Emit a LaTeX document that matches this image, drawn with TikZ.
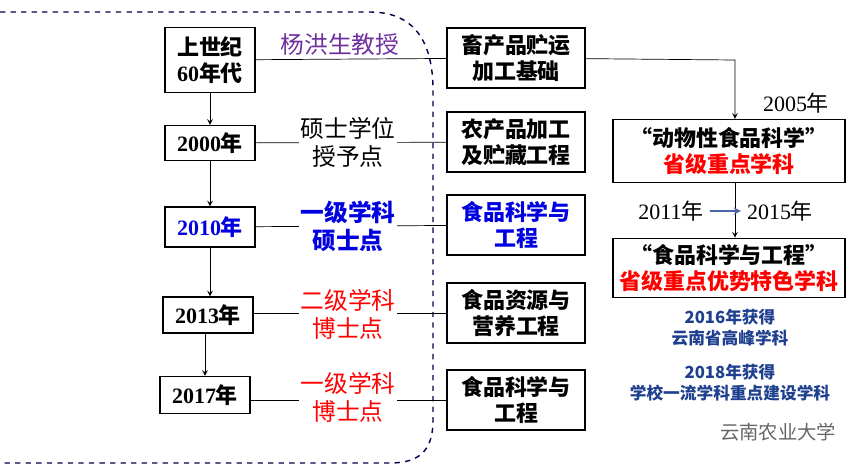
\documentclass[tikz,border=0pt]{standalone}
\usepackage{fontspec}
\setmainfont{Liberation Serif}
\newfontfamily\cjk{Noto Sans CJK SC}
\definecolor{zpurple}{HTML}{7030A0}
\definecolor{zblue}{HTML}{0000E0}
\definecolor{zred}{HTML}{FF0000}
\definecolor{znavy}{HTML}{1F3F8F}
\tikzset{
  yearbox/.style={draw,thick,font=\bfseries\fontsize{12.5}{14}\selectfont,minimum width=1.8cm,inner sep=2pt},
  fieldbox/.style={draw,thick,font=\cjk\bfseries\fontsize{12.5}{15}\selectfont,minimum width=2.76cm,minimum height=1.2cm,align=center},
  provbox/.style={draw,thick,font=\cjk\bfseries\fontsize{12.5}{15}\selectfont,minimum width=4.64cm,align=center},
  midlabel/.style={font=\cjk\fontsize{13.5}{16}\selectfont,align=center,fill=white,inner sep=1pt},
  >=stealth
}
\begin{document}
\begin{tikzpicture}[x=0.02cm,y=-0.02cm]
\useasboundingbox (0,0) rectangle (867,467);
% dashed region
\draw[dashed,thick,color=black!70!blue] (0,12)--(370,12) .. controls (420,12) and (433,50) .. (433,90)--(433,420) .. controls (433,450) and (420,463) .. (390,463)--(0,463);
% left column
\node[yearbox,minimum height=1.3cm,align=center,font=\cjk\bfseries\fontsize{12.5}{15}\selectfont] (y60) at (210,60) {上世纪\\{\rmfamily 60}年代};
\node[yearbox,minimum height=0.7cm] (y00) at (210,143) {2000{\cjk 年}};
\node[yearbox,minimum height=0.8cm,text=zblue] (y10) at (210,227) {2010{\cjk 年}};
\node[yearbox,minimum height=0.72cm] (y13) at (208,315) {2013{\cjk 年}};
\node[yearbox,minimum height=0.74cm] (y17) at (205,395) {2017{\cjk 年}};
\draw[->] (y60)--(y00);
\draw[->] (y00)--(y10);
\draw[->] (y10.south)--(y10.south|-y13.north);
\draw[->] (y17.north|-y13.south)--(y17.north);
% fields
\node[fieldbox] (f1) at (516,58) {畜产品贮运\\加工基础};
\node[fieldbox] (f2) at (516,142) {农产品加工\\及贮藏工程};
\node[fieldbox,text=zblue] (f3) at (516,225) {食品科学与\\工程};
\node[fieldbox] (f4) at (516,313) {食品资源与\\营养工程};
\node[fieldbox] (f5) at (516,400) {食品科学与\\工程};
% links
\draw (y60)--(f1);
\draw (y00)--(f2);
\draw (y10)--(f3);
\draw (y13.east|-f4)--(f4);
\draw (y17.east|-f5)--(f5);
\node[font=\cjk\fontsize{13.5}{16}\selectfont,text=zpurple] (prof) at (340,45) {杨洪生教授};
\node[midlabel] (l2) at (348,142) {硕士学位\\授予点};
\node[midlabel,font=\cjk\bfseries\fontsize{13.5}{16}\selectfont,text=zblue] (l3) at (348,226) {一级学科\\硕士点};
\node[midlabel,text=zred] (l4) at (348,314) {二级学科\\博士点};
\node[midlabel,text=zred] (l5) at (348,397) {一级学科\\博士点};
% right column
\node[provbox,minimum height=1.26cm] (p1) at (729,151) {“动物性食品科学”\\{\color{zred}省级重点学科}};
\node[provbox,minimum height=1.16cm] (p2) at (729,268) {“食品科学与工程”\\{\color{zred}省级重点优势特色学科}};
\coordinate (c1) at (735,60);
\draw[->] (f1)--(c1)--(c1|-p1.north);
\draw[->] (c1|-p1.south)--(c1|-p2.north);
\node[font=\fontsize{12.5}{14}\selectfont] (t05) at (796,103) {2005{\cjk 年}};
\node[font=\fontsize{12.5}{14}\selectfont] (t11) at (671,211) {2011{\cjk 年}};
\node[font=\fontsize{12.5}{14}\selectfont] (t15) at (780,211) {2015{\cjk 年}};
\draw[->,thick,color=znavy!80] (t11)--(t15);
\node[font=\cjk\bfseries\fontsize{9.5}{12}\selectfont,text=znavy,align=center] (h16) at (730,328) {2016年获得\\云南省高峰学科};
\node[font=\cjk\bfseries\fontsize{9.5}{12}\selectfont,text=znavy,align=center] (h18) at (730,383) {2018年获得\\学校一流学科重点建设学科};
\node[font=\cjk\fontsize{11}{13}\selectfont,text=black!60] (wm) at (778,432) {云南农业大学};
\end{tikzpicture}
\end{document}
